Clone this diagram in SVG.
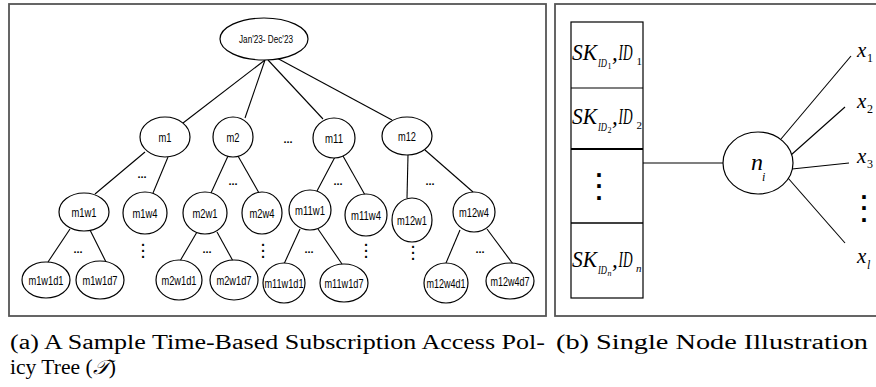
<svg xmlns="http://www.w3.org/2000/svg" width="876" height="387" viewBox="0 0 876 387">
<style>
.frame{fill:none;stroke:#555;stroke-width:1.8}
.n ellipse{fill:#fff;stroke:#000;stroke-width:1.2}
.n text{font-family:"Liberation Sans",Arial,sans-serif;font-size:12.5px;text-anchor:middle}
.e line{stroke:#000;stroke-width:1.1}
.hd{font-family:"Liberation Sans",Arial,sans-serif;font-size:11px;font-weight:bold;text-anchor:middle}
.vd{font-family:"Liberation Sans",Arial,sans-serif;font-size:20px}
.vdb{font-family:"Liberation Sans",Arial,sans-serif;font-size:25px;font-weight:bold}
.m{font-family:"Liberation Serif","Times New Roman",serif;font-style:italic}
.cap{font-family:"Liberation Serif","Times New Roman",serif;font-size:20px}
.box{fill:#fff;stroke:#000;stroke-width:1.2}
</style>

<rect class="frame" x="9" y="4" width="537" height="312"/>
<rect class="frame" x="555" y="4" width="330" height="312"/>

<g id="connectors" class="e">
<line x1="265" y1="60" x2="183" y2="123"/>
<line x1="265" y1="60" x2="245" y2="118"/>
<line x1="268" y1="60" x2="323" y2="119"/>
<line x1="275" y1="57" x2="392" y2="120"/>
<line x1="145" y1="152" x2="95" y2="194"/>
<line x1="168" y1="157" x2="153" y2="193"/>
<line x1="228" y1="156" x2="211" y2="193"/>
<line x1="238" y1="156" x2="259" y2="193"/>
<line x1="335" y1="157" x2="317" y2="191"/>
<line x1="343" y1="156" x2="365" y2="195"/>
<line x1="408" y1="155" x2="407" y2="198"/>
<line x1="425" y1="150" x2="473" y2="192"/>
<line x1="70" y1="229" x2="48" y2="262"/>
<line x1="90" y1="230" x2="106" y2="262"/>
<line x1="197" y1="232" x2="180" y2="261"/>
<line x1="217" y1="232" x2="233" y2="261"/>
<line x1="300" y1="229" x2="284" y2="264"/>
<line x1="318" y1="229" x2="342" y2="264"/>
<line x1="460" y1="230" x2="446" y2="263"/>
<line x1="487" y1="229" x2="513" y2="264"/>
<line x1="643" y1="163" x2="723" y2="163"/>
<line x1="781" y1="139" x2="851" y2="56"/>
<line x1="791" y1="155" x2="845" y2="107"/>
<line x1="792" y1="169" x2="849" y2="163"/>
<line x1="788" y1="178" x2="845" y2="243"/>
</g>

<g id="root" class="n"><ellipse cx="264" cy="39" rx="44" ry="21"/><text x="266" y="43" style="font-size:11.5px" textLength="54" lengthAdjust="spacingAndGlyphs">Jan'23- Dec'23</text></g>
<g id="m1" class="n"><ellipse cx="165" cy="137" rx="25" ry="20"/><text x="165" y="141.5" textLength="13" lengthAdjust="spacingAndGlyphs">m1</text></g>
<g id="m2" class="n"><ellipse cx="233" cy="137" rx="20" ry="20"/><text x="233" y="141.5" textLength="13" lengthAdjust="spacingAndGlyphs">m2</text></g>
<g id="m11" class="n"><ellipse cx="334" cy="138" rx="21" ry="20"/><text x="334" y="142.5" textLength="18" lengthAdjust="spacingAndGlyphs">m11</text></g>
<g id="m12" class="n"><ellipse cx="407" cy="136" rx="25" ry="19"/><text x="407" y="140.5" textLength="18" lengthAdjust="spacingAndGlyphs">m12</text></g>
<g id="m1w1" class="n"><ellipse cx="84" cy="212" rx="25" ry="19"/><text x="84" y="216.5" textLength="25" lengthAdjust="spacingAndGlyphs">m1w1</text></g>
<g id="m1w4" class="n"><ellipse cx="145" cy="213" rx="22" ry="21"/><text x="145" y="217.5" textLength="25" lengthAdjust="spacingAndGlyphs">m1w4</text></g>
<g id="m2w1" class="n"><ellipse cx="205" cy="213" rx="22" ry="21"/><text x="205" y="217.5" textLength="25" lengthAdjust="spacingAndGlyphs">m2w1</text></g>
<g id="m2w4" class="n"><ellipse cx="262" cy="213" rx="20" ry="21"/><text x="262" y="217.5" textLength="25" lengthAdjust="spacingAndGlyphs">m2w4</text></g>
<g id="m11w1" class="n"><ellipse cx="310" cy="210" rx="21" ry="20"/><text x="310" y="214.5" textLength="30" lengthAdjust="spacingAndGlyphs">m11w1</text></g>
<g id="m11w4" class="n"><ellipse cx="366" cy="215" rx="21" ry="21"/><text x="366" y="219.5" textLength="30" lengthAdjust="spacingAndGlyphs">m11w4</text></g>
<g id="m12w1" class="n"><ellipse cx="412" cy="220" rx="20" ry="22"/><text x="412" y="224.5" textLength="30" lengthAdjust="spacingAndGlyphs">m12w1</text></g>
<g id="m12w4" class="n"><ellipse cx="474" cy="212" rx="21" ry="20"/><text x="474" y="216.5" textLength="30" lengthAdjust="spacingAndGlyphs">m12w4</text></g>
<g id="m1w1d1" class="n"><ellipse cx="46" cy="280" rx="24" ry="18"/><text x="46" y="284.5" textLength="35" lengthAdjust="spacingAndGlyphs">m1w1d1</text></g>
<g id="m1w1d7" class="n"><ellipse cx="100" cy="280" rx="24" ry="19"/><text x="100" y="284.5" textLength="35" lengthAdjust="spacingAndGlyphs">m1w1d7</text></g>
<g id="m2w1d1" class="n"><ellipse cx="179" cy="280" rx="23" ry="20"/><text x="179" y="284.5" textLength="35" lengthAdjust="spacingAndGlyphs">m2w1d1</text></g>
<g id="m2w1d7" class="n"><ellipse cx="234" cy="280" rx="24" ry="20"/><text x="234" y="284.5" textLength="35" lengthAdjust="spacingAndGlyphs">m2w1d7</text></g>
<g id="m11w1d1" class="n"><ellipse cx="284" cy="283" rx="21" ry="20"/><text x="284" y="287.5" textLength="39" lengthAdjust="spacingAndGlyphs">m11w1d1</text></g>
<g id="m11w1d7" class="n"><ellipse cx="344" cy="283" rx="24" ry="19"/><text x="344" y="287.5" textLength="39" lengthAdjust="spacingAndGlyphs">m11w1d7</text></g>
<g id="m12w4d1" class="n"><ellipse cx="446" cy="283" rx="22" ry="20"/><text x="446" y="287.5" textLength="39" lengthAdjust="spacingAndGlyphs">m12w4d1</text></g>
<g id="m12w4d7" class="n"><ellipse cx="510" cy="281" rx="24" ry="18"/><text x="510" y="285.5" textLength="39" lengthAdjust="spacingAndGlyphs">m12w4d7</text></g>

<g id="ellipses">
<text class="hd" x="288" y="143">...</text>
<text class="hd" x="142" y="178">...</text>
<text class="hd" x="233" y="185">...</text>
<text class="hd" x="338" y="185">...</text>
<text class="hd" x="430" y="185">...</text>
<text class="hd" x="78" y="253">...</text>
<text class="hd" x="207" y="253">...</text>
<text class="hd" x="309" y="253">...</text>
<text class="hd" x="480" y="253">...</text>
<text class="vd" x="140.2 140.2 140.2" y="246 252 258">...</text>
<text class="vd" x="260.2 260.2 260.2" y="246 252 258">...</text>
<text class="vd" x="363.2 363.2 363.2" y="246 252 258">...</text>
<text class="vd" x="410.2 410.2 410.2" y="248 254 260">...</text>
</g>

<g id="table">
<rect class="box" x="571" y="22" width="72" height="276"/>
<line x1="571" y1="88" x2="643" y2="88" stroke="#000" stroke-width="1.2"/>
<line x1="571" y1="149" x2="643" y2="149" stroke="#000" stroke-width="1.8"/>
<line x1="571" y1="223" x2="643" y2="223" stroke="#000" stroke-width="1.4"/>
<text class="m"><tspan x="572" y="60" font-size="23" textLength="25" lengthAdjust="spacingAndGlyphs">SK</tspan><tspan x="598" y="67" font-size="12" textLength="9" lengthAdjust="spacingAndGlyphs">ID</tspan><tspan x="607.5" y="69" font-size="8" font-style="normal">1</tspan><tspan x="612" y="60" font-size="23">,</tspan><tspan x="618.5" y="60" font-size="23" textLength="14" lengthAdjust="spacingAndGlyphs">ID</tspan><tspan x="636.5" y="65" font-size="11" font-style="normal">1</tspan></text>
<text class="m"><tspan x="572" y="124" font-size="23" textLength="25" lengthAdjust="spacingAndGlyphs">SK</tspan><tspan x="598" y="131" font-size="12" textLength="9" lengthAdjust="spacingAndGlyphs">ID</tspan><tspan x="607.5" y="133" font-size="8" font-style="normal">2</tspan><tspan x="612" y="124" font-size="23">,</tspan><tspan x="618.5" y="124" font-size="23" textLength="14" lengthAdjust="spacingAndGlyphs">ID</tspan><tspan x="636.5" y="129" font-size="11" font-style="normal">2</tspan></text>
<text class="vdb" x="595.6 595.6 595.6" y="176.75 188.25 199.75">...</text>
<text class="m"><tspan x="572" y="267" font-size="23" textLength="25" lengthAdjust="spacingAndGlyphs">SK</tspan><tspan x="598" y="274" font-size="12" textLength="9" lengthAdjust="spacingAndGlyphs">ID</tspan><tspan x="607.5" y="276" font-size="8">n</tspan><tspan x="612" y="267" font-size="23">,</tspan><tspan x="618.5" y="267" font-size="23" textLength="14" lengthAdjust="spacingAndGlyphs">ID</tspan><tspan x="636" y="272" font-size="11">n</tspan></text>
</g>

<g id="ni" class="n"><ellipse cx="758" cy="163" rx="35" ry="31"/><text x="751" y="170" style="font-family:'Liberation Serif',serif;font-style:italic;font-size:24px;text-anchor:start"><tspan>n</tspan><tspan x="762" y="181" font-size="12">i</tspan></text></g>

<g id="xlabels" class="m">
<text x="857" y="57" font-size="21">x<tspan x="867" y="62" font-size="12" font-style="normal">1</tspan></text>
<text x="857" y="108" font-size="21">x<tspan x="867" y="113" font-size="12" font-style="normal">2</tspan></text>
<text x="857" y="163" font-size="21">x<tspan x="867" y="168" font-size="12" font-style="normal">3</tspan></text>
<text class="vdb" x="860.6 860.6 860.6" y="198.75 210.25 221.75" style="font-style:normal">...</text>
<text x="857" y="263" font-size="21">x<tspan x="867" y="269" font-size="12">l</tspan></text>
</g>

<g id="captions">
<text class="cap" x="10" y="349" textLength="535" lengthAdjust="spacingAndGlyphs">(a) A Sample Time-Based Subscription Access Pol-</text>
<text class="cap" x="10" y="374" textLength="106" lengthAdjust="spacingAndGlyphs">icy Tree (<tspan font-style="italic">𝒯</tspan>)</text>
<text class="cap" x="556" y="349" textLength="312" lengthAdjust="spacingAndGlyphs">(b) Single Node Illustration</text>
</g>
</svg>
